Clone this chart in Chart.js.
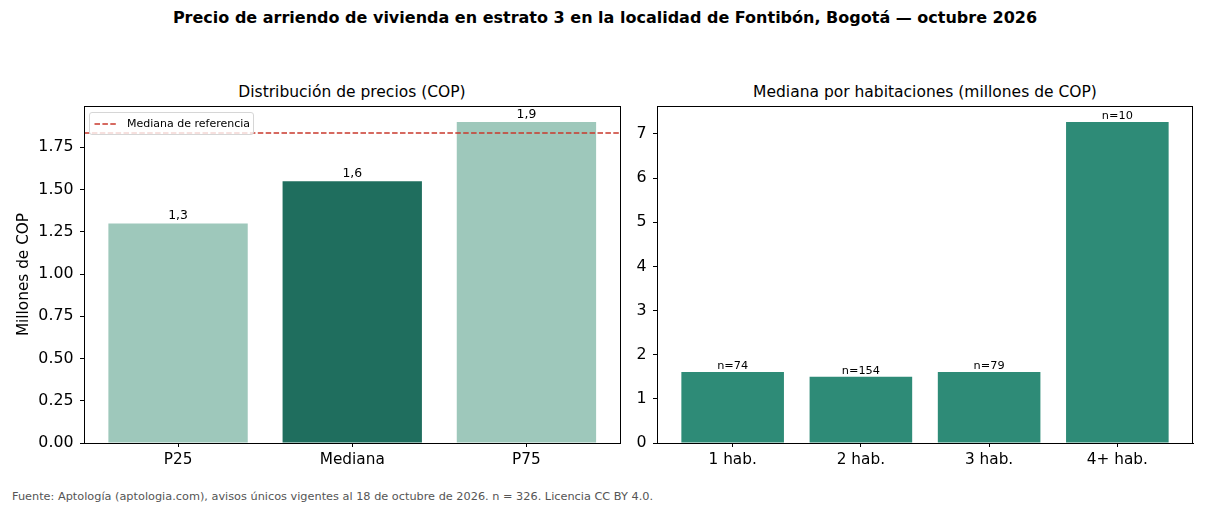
<!DOCTYPE html>
<html><head><meta charset="utf-8">
<script src="https://cdn.jsdelivr.net/npm/chart.js@4.4.1/dist/chart.umd.min.js"></script>
<style>
html,body{margin:0;padding:0;background:#fff;}
body{width:1210px;height:506px;position:relative;overflow:hidden;font-family:"DejaVu Sans",sans-serif;}
.box{position:absolute;top:0;height:506px;}
.t{position:absolute;transform:translate(-50%,-50%);white-space:nowrap;line-height:1;color:#000;}
</style></head><body>
<div class="t" id="mainTitle" style="left:605px;top:18px;font-weight:bold;font-size:16px;"></div>
<div class="t" id="leftTitle" style="left:352px;top:92.5px;font-size:15.5px;"></div>
<div class="t" id="rightTitle" style="left:925px;top:92.5px;font-size:15.5px;"></div>
<div id="footer" style="position:absolute;left:12px;top:497px;transform:translateY(-50%);font-size:11.3px;color:#555;white-space:nowrap;line-height:1;"></div>
<div class="box" style="left:0;width:640px;"><canvas id="c1"></canvas></div>
<div class="box" style="left:620px;width:590px;"><canvas id="c2"></canvas></div>
<script>
// ---- data ----
const mainTitle = "Precio de arriendo de vivienda en estrato 3 en la localidad de Fontibón, Bogotá — octubre 2026";
const leftTitle = "Distribución de precios (COP)";
const rightTitle = "Mediana por habitaciones (millones de COP)";
const footerText = "Fuente: Aptología (aptologia.com), avisos únicos vigentes al 18 de octubre de 2026. n = 326. Licencia CC BY 4.0.";
const yAxisTitle = "Millones de COP";
const refLabel = "Mediana de referencia";

const priceCategories = ["P25", "Mediana", "P75"];
const priceValues = [1.30, 1.55, 1.90];
const referenceMedian = 1.835;
const priceTicks = [0, 0.25, 0.5, 0.75, 1.0, 1.25, 1.5, 1.75];

const roomCategories = ["1 hab.", "2 hab.", "3 hab.", "4+ hab."];
const roomMedians = [1.61, 1.50, 1.61, 7.27];
const roomCounts = [74, 154, 79, 10];
const roomTicks = [0, 1, 2, 3, 4, 5, 6, 7];

// ---- styles ----
const FONT = '"DejaVu Sans", sans-serif';
const priceColors = ["#9ec8bb", "#1f6e5e", "#9ec8bb"];
const roomColor = "#2e8b77";
const refColor = "#c9392c";

document.getElementById('mainTitle').textContent = mainTitle;
document.getElementById('leftTitle').textContent = leftTitle;
document.getElementById('rightTitle').textContent = rightTitle;
document.getElementById('footer').textContent = footerText;

Chart.defaults.color = '#000';
Chart.defaults.font.family = FONT;

const frame = {
  id: 'frame',
  afterDatasetsDraw(chart) {
    const a = chart.chartArea, ctx = chart.ctx;
    ctx.save();
    ctx.strokeStyle = '#000'; ctx.lineWidth = 1;
    const l = Math.round(a.left) + 0.5, t = Math.round(a.top) + 0.5;
    const r = Math.round(a.right) - 0.5, b = Math.round(a.bottom) + 0.5;
    ctx.strokeRect(l, t, r - l, b - t);
    ctx.restore();
  }
};

function valueLabels(texts, size, offset) {
  return {
    id: 'valueLabels',
    afterDatasetsDraw(chart) {
      const meta = chart.getDatasetMeta(0), ctx = chart.ctx;
      ctx.save();
      ctx.fillStyle = '#000';
      ctx.font = size + 'px ' + FONT;
      ctx.textAlign = 'center';
      ctx.textBaseline = 'alphabetic';
      meta.data.forEach((el, i) => ctx.fillText(texts[i], el.x, el.y - offset));
      ctx.restore();
    }
  };
}

const legendBox = {
  id: 'legendBox',
  afterDatasetsDraw(chart) {
    const a = chart.chartArea, ctx = chart.ctx;
    const ds = chart.data.datasets[1];
    ctx.save();
    const x = a.left + 5.5, y = a.top + 6.5, w = 164, h = 22, r = 2.5;
    ctx.beginPath();
    ctx.moveTo(x + r, y); ctx.lineTo(x + w - r, y); ctx.quadraticCurveTo(x + w, y, x + w, y + r);
    ctx.lineTo(x + w, y + h - r); ctx.quadraticCurveTo(x + w, y + h, x + w - r, y + h);
    ctx.lineTo(x + r, y + h); ctx.quadraticCurveTo(x, y + h, x, y + h - r);
    ctx.lineTo(x, y + r); ctx.quadraticCurveTo(x, y, x + r, y); ctx.closePath();
    ctx.fillStyle = 'rgba(255,255,255,0.8)'; ctx.fill();
    ctx.strokeStyle = '#d6d6d6'; ctx.lineWidth = 1; ctx.stroke();
    const ly = y + h / 2 + 0.5;
    ctx.beginPath(); ctx.setLineDash(ds.borderDash); ctx.strokeStyle = ds.borderColor; ctx.lineWidth = ds.borderWidth;
    ctx.moveTo(x + 5, ly); ctx.lineTo(x + 28, ly); ctx.stroke();
    ctx.setLineDash([]);
    ctx.fillStyle = '#000'; ctx.font = '11px ' + FONT; ctx.textBaseline = 'middle'; ctx.textAlign = 'left';
    ctx.fillText(ds.label, x + 37.5, ly);
    ctx.restore();
  }
};

function xScale(cats, tickFont) {
  const n = cats.length;
  const margin = 0.05 * (n - 1 + 0.8);
  return {
    type: 'linear', min: -0.4 - margin, max: n - 1 + 0.4 + margin, offset: false,
    grid: { display: true, drawOnChartArea: false, offset: false, tickLength: 4, color: '#000', lineWidth: 1 },
    border: { display: true, color: '#000', width: 1 },
    afterBuildTicks: s => { s.ticks = cats.map((_, i) => ({ value: i })); },
    ticks: { font: { size: tickFont }, color: '#000', padding: 4, maxRotation: 0, autoSkip: false,
      callback: v => cats[v] },
    afterFit: s => { s.height = 30; }
  };
}

function yScale(max, ticks, fmt, width, title) {
  const cfg = {
    type: 'linear', min: 0, max: max,
    grid: { display: true, drawOnChartArea: false, tickLength: 4, color: '#000', lineWidth: 1 },
    border: { display: true, color: '#000', width: 1 },
    afterBuildTicks: s => { s.ticks = ticks.map(v => ({ value: v })); },
    ticks: { font: { size: 15.8 }, color: '#000', padding: 6.5, autoSkip: false, callback: fmt },
    afterFit: s => { s.width = width; }
  };
  if (title) cfg.title = { display: true, text: title, color: '#000', font: { size: 15.3 }, padding: { top: 15, bottom: 0 } };
  return cfg;
}

const priceMax = Math.max(...priceValues) * 1.05;
const priceCats = priceCategories;
new Chart(document.getElementById('c1'), {
  type: 'bar',
  data: {
    datasets: [
      { type: 'bar', data: priceValues.map((v, i) => ({ x: i, y: v })), backgroundColor: priceColors,
        barPercentage: 0.8, categoryPercentage: 1, borderWidth: 0, order: 2 },
      { type: 'line', label: refLabel,
        data: [{ x: -0.4 - 0.05 * (priceCats.length - 0.2), y: referenceMedian }, { x: priceCats.length - 0.6 + 0.05 * (priceCats.length - 0.2), y: referenceMedian }],
        borderColor: refColor, borderWidth: 1.5, borderDash: [5.5, 2.4], pointRadius: 0, fill: false, order: 1 }
    ]
  },
  options: {
    animation: false, responsive: true, maintainAspectRatio: false, devicePixelRatio: 1,
    layout: { padding: { left: 0, top: 106, right: 19.5, bottom: 33 } },
    plugins: { legend: { display: false }, tooltip: { enabled: false } },
    scales: {
      x: xScale(priceCats, 15.3),
      y: yScale(priceMax, priceTicks, v => Number(v).toFixed(2), 84, yAxisTitle)
    }
  },
  plugins: [valueLabels(priceValues.map(v => v.toFixed(1).replace('.', ',')), 12.4, 4), legendBox, frame]
});

const roomMax = Math.max(...roomMedians) * 1.05;
new Chart(document.getElementById('c2'), {
  type: 'bar',
  data: {
    datasets: [
      { data: roomMedians.map((v, i) => ({ x: i, y: v })), backgroundColor: roomColor,
        barPercentage: 0.8, categoryPercentage: 1, borderWidth: 0 }
    ]
  },
  options: {
    animation: false, responsive: true, maintainAspectRatio: false, devicePixelRatio: 1,
    layout: { padding: { left: 0, top: 106, right: 17, bottom: 33 } },
    plugins: { legend: { display: false }, tooltip: { enabled: false } },
    scales: {
      x: xScale(roomCategories, 15.3),
      y: yScale(roomMax, roomTicks, v => String(v), 37, null)
    }
  },
  plugins: [valueLabels(roomCounts.map(c => 'n=' + c), 11.3, 3), frame]
});
</script>
</body></html>
